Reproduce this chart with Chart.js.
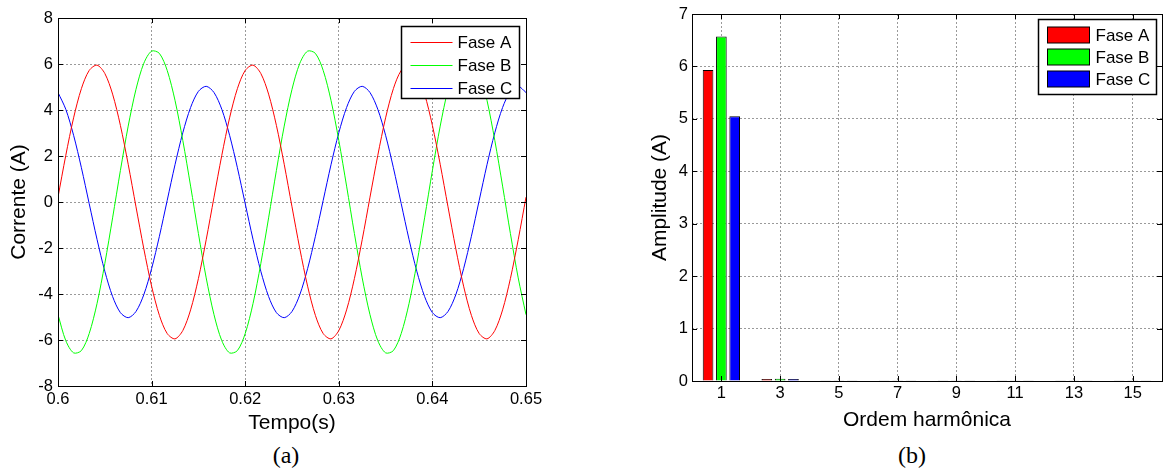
<!DOCTYPE html>
<html>
<head>
<meta charset="utf-8">
<script src="https://cdn.jsdelivr.net/npm/chart.js@4.4.1/dist/chart.umd.min.js"></script>
<style>
  body { margin: 0; background: #fff; width: 1171px; height: 468px; position: relative; overflow: hidden; }
  canvas { position: absolute; top: 0; }
  #graficoA { left: 0; }
  #graficoB { left: 620px; }
  .rotulo { position: absolute; top: 440px; width: 100px; text-align: center;
    font-family: 'Liberation Serif', 'Times New Roman', serif; font-size: 24px; line-height: 30px; }
</style>
</head>
<body>
<canvas id="graficoA" width="560" height="436"></canvas>
<canvas id="graficoB" width="551" height="433"></canvas>
<div class="rotulo" style="left:236px">(a)</div>
<div class="rotulo" style="left:862px">(b)</div>
<script>
/* global Chart */
Chart.defaults.font.family = "'Liberation Sans', Arial, sans-serif";
Chart.defaults.color = '#000';

// (a) correntes no tempo
const tempo = [
  0.6, 0.600833, 0.601667, 0.6025, 0.603333, 0.604167, 0.605, 0.605833, 0.606667, 0.6075,
  0.608333, 0.609167, 0.61, 0.610833, 0.611667, 0.6125, 0.613333, 0.614167, 0.615, 0.615833,
  0.616667, 0.6175, 0.618333, 0.619167, 0.62, 0.620833, 0.621667, 0.6225, 0.623333, 0.624167,
  0.625, 0.625833, 0.626667, 0.6275, 0.628333, 0.629167, 0.63, 0.630833, 0.631667, 0.6325,
  0.633333, 0.634167, 0.635, 0.635833, 0.636667, 0.6375, 0.638333, 0.639167, 0.64, 0.640833,
  0.641667, 0.6425, 0.643333, 0.644167, 0.645, 0.645833, 0.646667, 0.6475, 0.648333, 0.649167,
  0.65
];
const faseA = [
  0.21, 2.03, 3.66, 4.93, 5.72, 5.95, 5.59, 4.69, 3.33, 1.64,
  -0.21, -2.03, -3.66, -4.93, -5.72, -5.95, -5.59, -4.69, -3.33, -1.64,
  0.21, 2.03, 3.66, 4.93, 5.72, 5.95, 5.59, 4.69, 3.33, 1.64,
  -0.21, -2.03, -3.66, -4.93, -5.72, -5.95, -5.59, -4.69, -3.33, -1.64,
  0.21, 2.03, 3.66, 4.93, 5.72, 5.95, 5.59, 4.69, 3.33, 1.64,
  -0.21, -2.03, -3.66, -4.93, -5.72, -5.95, -5.59, -4.69, -3.33, -1.64,
  0.21
];
const faseB = [
  -4.90, -6.03, -6.56, -6.46, -5.72, -4.42, -2.68, -0.69, 1.37, 3.30,
  4.90, 6.03, 6.56, 6.46, 5.72, 4.42, 2.68, 0.69, -1.37, -3.30,
  -4.90, -6.03, -6.56, -6.46, -5.72, -4.42, -2.68, -0.69, 1.37, 3.30,
  4.90, 6.03, 6.56, 6.46, 5.72, 4.42, 2.68, 0.69, -1.37, -3.30,
  -4.90, -6.03, -6.56, -6.46, -5.72, -4.42, -2.68, -0.69, 1.37, 3.30,
  4.90, 6.03, 6.56, 6.46, 5.72, 4.42, 2.68, 0.69, -1.37, -3.30,
  -4.90
];
const faseC = [
  4.76, 4.03, 2.90, 1.49, -0.07, -1.62, -3.01, -4.11, -4.81, -5.03,
  -4.76, -4.03, -2.90, -1.49, 0.07, 1.62, 3.01, 4.11, 4.81, 5.03,
  4.76, 4.03, 2.90, 1.49, -0.07, -1.62, -3.01, -4.11, -4.81, -5.03,
  -4.76, -4.03, -2.90, -1.49, 0.07, 1.62, 3.01, 4.11, 4.81, 5.03,
  4.76, 4.03, 2.90, 1.49, -0.07, -1.62, -3.01, -4.11, -4.81, -5.03,
  -4.76, -4.03, -2.90, -1.49, 0.07, 1.62, 3.01, 4.11, 4.81, 5.03,
  4.76
];
const ticksTempo = [0.6, 0.61, 0.62, 0.63, 0.64, 0.65];
const ticksCorrente = [-8, -6, -4, -2, 0, 2, 4, 6, 8];

// (b) espectro harmonico
const ordens = [1, 3, 5, 7, 9, 11, 13, 15];
const ampA = [5.93, 0.04, 0.012, 0.012, 0.012, 0.012, 0.012, 0.012];
const ampB = [6.57, 0.045, 0.012, 0.012, 0.012, 0.012, 0.012, 0.012];
const ampC = [5.05, 0.04, 0.012, 0.012, 0.012, 0.012, 0.012, 0.012];
const ticksAmplitude = [0, 1, 2, 3, 4, 5, 6, 7];

const nomesFases = ['Fase A', 'Fase B', 'Fase C'];
const coresFases = ['#ff0000', '#00ff00', '#0000ff'];

// moldura do eixo com marcas para dentro (estilo matlab)
const caixaEixos = {
  id: 'caixaEixos',
  afterDatasetsDraw(chart) {
    const { ctx, chartArea: a, scales } = chart;
    ctx.save();
    ctx.strokeStyle = '#000';
    ctx.lineWidth = 1;
    ctx.beginPath();
    scales.x.ticks.forEach(t => {
      const px = Math.round(scales.x.getPixelForValue(t.value)) + 0.5;
      ctx.moveTo(px, a.bottom); ctx.lineTo(px, a.bottom - 5);
      ctx.moveTo(px, a.top); ctx.lineTo(px, a.top + 5);
    });
    scales.y.ticks.forEach(t => {
      const py = Math.round(scales.y.getPixelForValue(t.value)) + 0.5;
      ctx.moveTo(a.left, py); ctx.lineTo(a.left + 5, py);
      ctx.moveTo(a.right, py); ctx.lineTo(a.right - 5, py);
    });
    ctx.stroke();
    ctx.strokeRect(Math.round(a.left) + 0.5, Math.round(a.top) + 0.5,
      Math.round(a.right - a.left), Math.round(a.bottom - a.top));
    ctx.restore();
  }
};

// legenda dentro do grafico, canto superior direito
const caixaLegenda = {
  id: 'caixaLegenda',
  afterDraw(chart, args, o) {
    const { ctx, chartArea: a } = chart;
    const x0 = Math.round(a.right - o.dx - o.w) + 0.5;
    const y0 = Math.round(a.top + o.dy) + 0.5;
    ctx.save();
    ctx.fillStyle = '#fff';
    ctx.fillRect(x0, y0, o.w, o.h);
    ctx.lineWidth = 1.5;
    ctx.strokeStyle = '#000';
    ctx.strokeRect(x0, y0, o.w, o.h);
    ctx.font = "17px 'Liberation Sans', Arial, sans-serif";
    ctx.textBaseline = 'middle';
    chart.data.datasets.forEach((ds, i) => {
      const y = Math.round(y0 + o.first + i * o.step);
      if (o.tipo === 'linha') {
        ctx.strokeStyle = ds.borderColor;
        ctx.lineWidth = 1;
        ctx.beginPath();
        ctx.moveTo(x0 + 9, y + 0.5);
        ctx.lineTo(x0 + 51, y + 0.5);
        ctx.stroke();
      } else {
        ctx.fillStyle = ds.backgroundColor;
        ctx.fillRect(x0 + 9, y - 8, 42, 16);
        ctx.strokeStyle = '#000';
        ctx.lineWidth = 1;
        ctx.strokeRect(x0 + 9, y - 8, 42, 16);
      }
      ctx.fillStyle = '#000';
      ctx.fillText(ds.label, x0 + o.tx, y + 1);
    });
    ctx.restore();
  }
};

const grade = { color: '#9a9a9a', lineWidth: 1, drawTicks: false };
const borda = { display: false, dash: [2, 2] };

new Chart(document.getElementById('graficoA'), {
  type: 'line',
  data: {
    datasets: [faseA, faseB, faseC].map((serie, i) => ({
      label: nomesFases[i],
      data: serie.map((v, k) => ({ x: tempo[k], y: v })),
      borderColor: coresFases[i],
      borderWidth: 1,
      pointRadius: 0,
      tension: 0.3,
      fill: false
    }))
  },
  options: {
    responsive: false,
    animation: false,
    layout: { padding: { top: 18, right: 34, left: 0, bottom: 0 } },
    plugins: {
      legend: { display: false },
      tooltip: { enabled: false },
      caixaLegenda: { tipo: 'linha', w: 118, h: 72, dx: 7, dy: 8, first: 15, step: 23, tx: 56 }
    },
    scales: {
      x: {
        type: 'linear', min: 0.6, max: 0.65,
        afterBuildTicks: s => { s.ticks = ticksTempo.map(v => ({ value: v })); },
        afterFit: s => { s.height = 50; },
        ticks: { font: { size: 16.5 }, padding: 4, maxRotation: 0, autoSkip: false, callback: v => String(v) },
        grid: grade, border: borda,
        title: { display: true, text: 'Tempo(s)', font: { size: 21 }, padding: 0 }
      },
      y: {
        min: -8, max: 8,
        afterBuildTicks: s => { s.ticks = ticksCorrente.map(v => ({ value: v })); },
        afterFit: s => { s.width = 58; },
        ticks: { font: { size: 16.5 }, padding: 5, callback: v => String(v) },
        grid: grade, border: borda,
        title: { display: true, text: 'Corrente (A)', font: { size: 21 }, padding: { top: 7, bottom: 0 } }
      }
    }
  },
  plugins: [caixaEixos, caixaLegenda]
});

new Chart(document.getElementById('graficoB'), {
  type: 'bar',
  data: {
    datasets: [ampA, ampB, ampC].map((serie, i) => ({
      label: nomesFases[i],
      data: serie.map((v, k) => ({ x: ordens[k], y: v })),
      backgroundColor: coresFases[i],
      borderColor: '#000',
      borderWidth: 1,
      categoryPercentage: 0.68,
      barPercentage: 0.8
    }))
  },
  options: {
    responsive: false,
    animation: false,
    layout: { padding: { top: 14, right: 9, left: 0, bottom: 0 } },
    plugins: {
      legend: { display: false },
      tooltip: { enabled: false },
      caixaLegenda: { tipo: 'barra', w: 118, h: 75, dx: 6, dy: 5, first: 15.5, step: 22, tx: 57 }
    },
    scales: {
      x: {
        type: 'linear', min: 0, max: 16, offset: false,
        afterBuildTicks: s => { s.ticks = ordens.map(v => ({ value: v })); },
        afterFit: s => { s.height = 52; },
        ticks: { font: { size: 16.5 }, padding: 3, maxRotation: 0, autoSkip: false, callback: v => String(v) },
        grid: Object.assign({ offset: false }, grade), border: borda,
        title: { display: true, text: 'Ordem harmônica', font: { size: 21 }, padding: 0 }
      },
      y: {
        min: 0, max: 7,
        afterBuildTicks: s => { s.ticks = ticksAmplitude.map(v => ({ value: v })); },
        afterFit: s => { s.width = 72; },
        ticks: { font: { size: 16.5 }, padding: 4, callback: v => String(v) },
        grid: grade, border: borda,
        title: { display: true, text: 'Amplitude (A)', font: { size: 21 }, padding: { top: 28, bottom: 0 } }
      }
    }
  },
  plugins: [caixaEixos, caixaLegenda]
});
</script>
</body>
</html>
